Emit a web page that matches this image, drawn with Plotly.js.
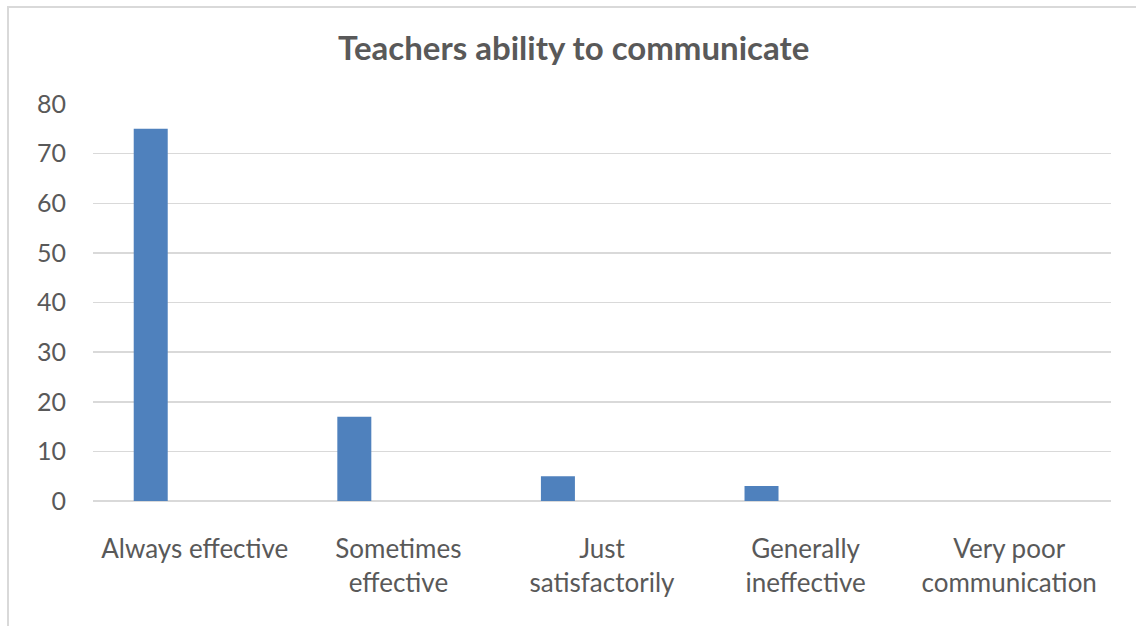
<!DOCTYPE html>
<html><head><meta charset="utf-8">
<script src="https://cdn.plot.ly/plotly-3.0.1.min.js"></script>
<style>
html,body{margin:0;padding:0;background:#fff;overflow:hidden;}
#chart{position:absolute;left:0;top:0;width:1136px;height:626px;}
#frame{position:absolute;left:7px;top:6px;width:1200px;height:700px;border-left:2px solid #d9d9d9;border-top:2px solid #d9d9d9;pointer-events:none;}
</style></head>
<body>
<div id="chart"></div>
<div id="frame"></div>
<script>
const categories = ["Always effective", "Sometimes<br>effective", "Just<br>satisfactorily", "Generally<br>ineffective", "Very poor<br>communication"];
const values = [75, 17, 5, 3, 0];
const tickVals = [0, 10, 20, 30, 40, 50, 60, 70, 80];
const titleText = "Teachers ability to communicate";

const font = "Lato, 'Open Sans', sans-serif";
Plotly.newPlot('chart', [{
  type: 'bar', x: categories, y: values,
  marker: {color: '#4f81bd'},
  width: 0.167, offset: -0.30,
  hoverinfo: 'x+y'
}], {
  width: 1136, height: 626,
  margin: {l: 93, r: 25, t: 104, b: 125},
  paper_bgcolor: '#fff', plot_bgcolor: '#fff',
  title: {text: '<b>' + titleText + '</b>', x: 0.505, xanchor: 'center', y: 0.923, yanchor: 'middle',
          font: {family: font, size: 33, color: '#595959'}},
  showlegend: false,
  xaxis: {type: 'category', showgrid: false, showline: false, ticks: '', zeroline: false,
          tickfont: {family: font, size: 26, color: '#595959'}, ticklabelstandoff: 30},
  yaxis: {range: [0, 80], tickvals: tickVals, showgrid: true, gridcolor: '#d9d9d9', gridwidth: 1.5,
          zeroline: true, zerolinecolor: '#d9d9d9', zerolinewidth: 1.5, showline: false, ticks: '',
          tickfont: {family: font, size: 25, color: '#595959'}, ticklabelstandoff: 26}
}, {displayModeBar: false, staticPlot: true});
</script>
</body></html>
